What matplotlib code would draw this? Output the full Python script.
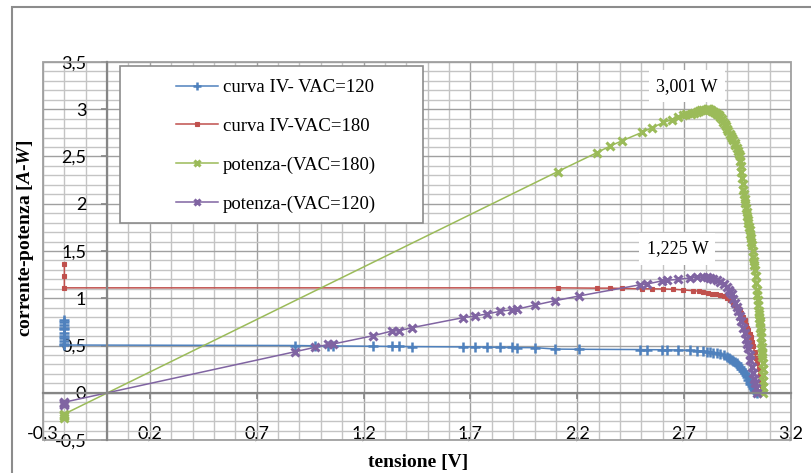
import matplotlib
matplotlib.use("Agg")
import matplotlib.pyplot as plt
from matplotlib.patches import Rectangle
from matplotlib.ticker import MultipleLocator

# --- measured data -------------------------------------------------------
# I-V curve, VAC = 120
v_iv120 = [-0.2, -0.2, -0.2, -0.2, -0.2, -0.2, -0.2, -0.2, -0.2, -0.2, -0.2,
           0.879, 0.973, 1.035, 1.058, 1.246, 1.332, 1.367, 1.425, 1.664, 1.722,
           1.776, 1.839, 1.896, 1.92, 2.004, 2.096, 2.208, 2.494, 2.525, 2.595,
           2.619, 2.673, 2.728, 2.759, 2.79, 2.806, 2.822, 2.837, 2.853, 2.868,
           2.885, 2.899, 2.908, 2.915, 2.923, 2.93, 2.938, 2.946, 2.953, 2.96,
           2.968, 2.977, 2.984, 2.99, 2.995, 3.0, 3.006, 3.01, 3.016, 3.021,
           3.026, 3.03, 3.035, 3.04]
i_iv120 = [0.77, 0.75, 0.72, 0.69, 0.67, 0.63, 0.60, 0.58, 0.55, 0.52, 0.505,
           0.500, 0.497, 0.495, 0.495, 0.492, 0.490, 0.490, 0.488, 0.485, 0.485,
           0.482, 0.480, 0.479, 0.478, 0.477, 0.462, 0.460, 0.457, 0.456, 0.455,
           0.455, 0.452, 0.449, 0.446, 0.440, 0.435, 0.430, 0.425, 0.418, 0.410,
           0.396, 0.382, 0.372, 0.362, 0.350, 0.337, 0.323, 0.310, 0.295, 0.275,
           0.255, 0.225, 0.205, 0.185, 0.165, 0.135, 0.110, 0.095, 0.070, 0.047,
           0.033, 0.020, 0.010, 0.0]

# I-V curve, VAC = 180
v_iv180 = [-0.2, -0.2, -0.2,
           2.108, 2.291, 2.353, 2.408, 2.502, 2.55, 2.603, 2.65, 2.696, 2.74,
           2.77, 2.79, 2.81, 2.83, 2.85, 2.868, 2.885, 2.9, 2.915, 2.928,
           2.94, 2.95, 2.96, 2.968, 2.975, 2.983, 2.99, 2.995, 3.0, 3.006,
           3.012, 3.018, 3.024, 3.03, 3.036, 3.042, 3.048, 3.054, 3.06, 3.065,
           3.07]
i_iv180 = [1.36, 1.24, 1.11,
           1.11, 1.107, 1.107, 1.104, 1.10, 1.10, 1.098, 1.095, 1.088, 1.08,
           1.075, 1.068, 1.06, 1.05, 1.042, 1.034, 1.02, 1.0, 0.98, 0.955,
           0.93, 0.90, 0.87, 0.84, 0.805, 0.765, 0.72, 0.69, 0.664, 0.625,
           0.585, 0.54, 0.49, 0.43, 0.37, 0.31, 0.25, 0.19, 0.13, 0.07,
           0.0]

# power curve, VAC = 180
v_p180 = [-0.2, -0.2, -0.2, -0.2,
          2.108, 2.291, 2.353, 2.408, 2.502, 2.55, 2.603, 2.642, 2.67, 2.696,
          2.71, 2.73, 2.745, 2.759, 2.77, 2.78, 2.79, 2.798, 2.805, 2.81,
          2.818, 2.825, 2.832, 2.84, 2.848, 2.855, 2.862, 2.87, 2.877, 2.883,
          2.889, 2.895, 2.901, 2.907, 2.913, 2.918, 2.924, 2.93, 2.936, 2.94,
          2.945, 2.95, 2.955, 2.96, 2.962, 2.965, 2.968, 2.971, 2.974, 2.977,
          2.98, 2.983, 2.986, 2.989, 2.992, 2.995, 2.998, 3.0, 3.003, 3.006,
          3.009, 3.012, 3.015, 3.018, 3.021, 3.024, 3.027, 3.029, 3.032, 3.034,
          3.037, 3.04, 3.042, 3.044, 3.046, 3.048, 3.05, 3.052, 3.054, 3.055,
          3.057, 3.058, 3.06, 3.061, 3.062, 3.064, 3.065, 3.066, 3.067, 3.068,
          3.069, 3.07, 3.071, 3.071]
p180 = [-0.27, -0.25, -0.235, -0.225,
        2.34, 2.54, 2.61, 2.665, 2.755, 2.805, 2.86, 2.89, 2.915, 2.935,
        2.945, 2.955, 2.965, 2.975, 2.982, 2.988, 2.992, 2.995, 2.998, 3.001,
        2.999, 2.995, 2.986, 2.975, 2.963, 2.95, 2.934, 2.915, 2.893, 2.868,
        2.845, 2.82, 2.793, 2.765, 2.742, 2.72, 2.698, 2.675, 2.645, 2.62,
        2.59, 2.56, 2.53, 2.50, 2.45, 2.40, 2.335, 2.27, 2.21, 2.146,
        2.10, 2.05, 2.005, 1.96, 1.915, 1.87, 1.83, 1.793, 1.755, 1.72,
        1.68, 1.64, 1.60, 1.56, 1.50, 1.44, 1.395, 1.35, 1.295, 1.24,
        1.165, 1.087, 1.035, 0.98, 0.925, 0.87, 0.83, 0.79, 0.76, 0.735,
        0.69, 0.64, 0.585, 0.53, 0.48, 0.43, 0.405, 0.38, 0.315, 0.25,
        0.185, 0.12, 0.06, 0.0]

# power curve, VAC = 120
v_p120 = [-0.2, -0.2, -0.2, -0.2, -0.2,
          0.879, 0.973, 1.035, 1.058, 1.246, 1.332, 1.367, 1.425, 1.664, 1.722,
          1.776, 1.839, 1.896, 1.92, 2.004, 2.096, 2.208, 2.494, 2.525, 2.595,
          2.619, 2.673, 2.728, 2.759, 2.79, 2.806, 2.822, 2.837, 2.853, 2.868,
          2.885, 2.899, 2.908, 2.915, 2.923, 2.93, 2.938, 2.946, 2.953, 2.96,
          2.968, 2.977, 2.984, 2.99, 2.995, 3.0, 3.006, 3.01, 3.016, 3.021,
          3.026, 3.03, 3.036, 3.04]
p120 = [-0.125, -0.118, -0.11, -0.105, -0.10,
        0.434, 0.481, 0.512, 0.516, 0.604, 0.653, 0.656, 0.688, 0.794, 0.812,
        0.833, 0.862, 0.879, 0.886, 0.929, 0.974, 1.024, 1.143, 1.15, 1.183,
        1.19, 1.20, 1.215, 1.22, 1.225, 1.222, 1.215, 1.205, 1.19, 1.175,
        1.155, 1.12, 1.09, 1.065, 1.04, 0.99, 0.945, 0.91, 0.87, 0.81,
        0.76, 0.69, 0.63, 0.57, 0.52, 0.47, 0.40, 0.35, 0.276, 0.21,
        0.15, 0.10, 0.05, 0.0]

series_names = ["curva IV- VAC=120", "curva IV-VAC=180",
                "potenza-(VAC=180)", "potenza-(VAC=120)"]

x_ticks = [-0.3, 0.2, 0.7, 1.2, 1.7, 2.2, 2.7, 3.2]
x_tick_labels = ["-0,3", "0,2", "0,7", "1,2", "1,7", "2,2", "2,7", "3,2"]
y_ticks = [-0.5, 0, 0.5, 1, 1.5, 2, 2.5, 3, 3.5]
y_tick_labels = ["-0,5", "0", "0,5", "1", "1,5", "2", "2,5", "3", "3,5"]

# --- style ------------------------------------------------------------------
plt.rcParams["font.family"] = ["Lato", "DejaVu Sans"]
plt.rcParams["mathtext.fontset"] = "custom"
plt.rcParams["mathtext.rm"] = "Liberation Serif:bold"
plt.rcParams["mathtext.bf"] = "Liberation Serif:bold"
plt.rcParams["mathtext.it"] = "Liberation Serif:italic:bold"
plt.rcParams["mathtext.default"] = "it"

SERIF = "Liberation Serif"
BLUE, RED, GREEN, PURPLE = "#4F81BD", "#C0504D", "#9BBB59", "#8064A2"
AXIS_GREY = "#868686"

W, H = 811, 473
fig = plt.figure(figsize=(W / 100, H / 100), dpi=100)
L, R, T, B = 43, 791, 62, 440
ax = fig.add_axes([L / W, (H - B) / H, (R - L) / W, (B - T) / H])
ax.set_xlim(-0.3, 3.2)
ax.set_ylim(-0.5, 3.5)

# grid
ax.set_xticks(x_ticks)
ax.set_yticks(y_ticks, labels=y_tick_labels)
ax.xaxis.set_minor_locator(MultipleLocator(0.1))
ax.yaxis.set_minor_locator(MultipleLocator(0.1))
ax.grid(which="minor", color="#c4c4c4", lw=1.0, zorder=0)
ax.grid(which="major", color="#a0a0a0", lw=1.0, zorder=0)
ax.set_axisbelow(True)

# axes crossing at the origin
for side in ("top", "right"):
    ax.spines[side].set_visible(False)
for side in ("left", "bottom"):
    ax.spines[side].set_position(("data", 0))
    ax.spines[side].set_color(AXIS_GREY)
    ax.spines[side].set_linewidth(1.6)
ax.tick_params(which="minor", length=0)
ax.tick_params(which="major", direction="out", length=4, width=1.2,
               color=AXIS_GREY)
ax.tick_params(axis="x", labelbottom=False)
ax.tick_params(axis="y", pad=11, labelsize=13, labelcolor="black")

# x tick labels along the bottom edge of the plot area
sec = ax.secondary_xaxis(0.0)
sec.set_xticks(x_ticks, labels=x_tick_labels)
sec.tick_params(length=0, pad=-10, labelsize=13)
sec.spines["bottom"].set_visible(False)

# plot-area frame
ax.add_patch(Rectangle((0, 0), 1, 1, transform=ax.transAxes, fill=False,
                       edgecolor="#a0a0a0", lw=1.3, clip_on=False, zorder=1))

# series
h1, = ax.plot(v_iv120, i_iv120, color=BLUE, lw=1.1, marker="+", ms=7, mew=1.8,
              label=series_names[0], zorder=2)
h2, = ax.plot(v_iv180, i_iv180, color=RED, lw=1.1, marker="s", ms=3, mew=0.8,
              label=series_names[1], zorder=2)
h3, = ax.plot(v_p180, p180, color=GREEN, lw=1.1, marker="x", ms=6, mew=2.2,
              label=series_names[2], zorder=2)
h4, = ax.plot(v_p120, p120, color=PURPLE, lw=1.1, marker="x", ms=6, mew=2.2,
              label=series_names[3], zorder=2)

# peak-power labels
for v_list, p_list, off in ((v_p180, p180, (-21, 23)), (v_p120, p120, (-26, 28))):
    k = max(range(len(p_list)), key=lambda n: p_list[n])
    txt = f"{p_list[k]:.3f}".replace(".", ",") + " W"
    ax.annotate(txt, xy=(v_list[k], p_list[k]), xytext=off,
                textcoords="offset pixels", ha="center", va="center",
                fontsize=13, family=SERIF, zorder=6,
                bbox=dict(boxstyle="square,pad=0.4", fc="white", ec="none"))

# legend box and entries
ax.add_patch(Rectangle((120 / W, 1 - 223 / H), 303 / W, 157 / H,
                       transform=fig.transFigure, facecolor="white",
                       edgecolor="#8c8c8c", lw=1.2, zorder=4, clip_on=False))
leg = ax.legend(handles=[h1, h2, h3, h4], loc="upper left",
                bbox_to_anchor=(176 / W, 1 - 79 / H),
                bbox_transform=fig.transFigure, frameon=False,
                prop={"family": SERIF, "size": 13.5}, handlelength=2.25,
                handletextpad=0.25, labelspacing=1.15, borderpad=0,
                borderaxespad=0, markerscale=0.75)
leg.set_zorder(5)

# axis titles
fig.text(418 / W, 1 - 462 / H, "tensione [V]", ha="center", va="center",
         family=SERIF, weight="bold", fontsize=14)
fig.text(26 / W, 1 - 238 / H, "corrente-potenza [$A$-$W$]", rotation=90,
         ha="center", va="center", family=SERIF, weight="bold", fontsize=14)

# chart-area border
fig.add_artist(Rectangle((12 / W, -0.5), 2, 0.5 + 1 - 7 / H,
                         transform=fig.transFigure, fill=False,
                         edgecolor="#8c8c8c", lw=1.5))

fig.savefig("out.png", dpi=100)
